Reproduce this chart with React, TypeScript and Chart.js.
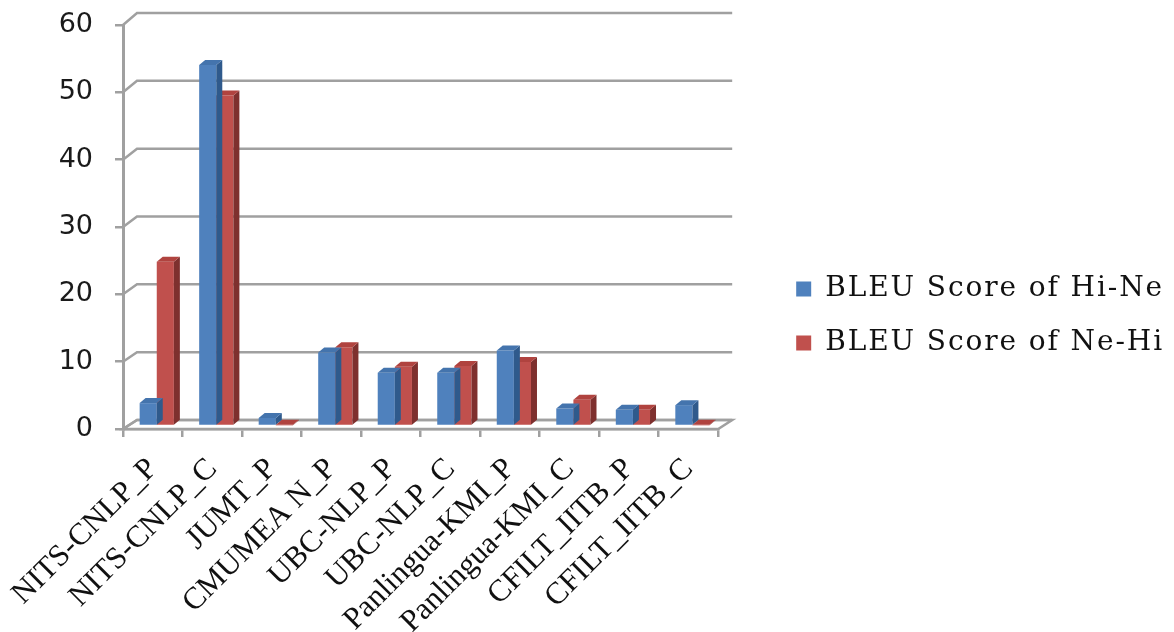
import React, { useEffect, useRef } from "react";
import { Chart, registerables } from "chart.js";

Chart.register(...registerables);

const categories = [
  "NITS-CNLP_P",
  "NITS-CNLP_C",
  "JUMT_P",
  "CMUMEA N_P",
  "UBC-NLP_P",
  "UBC-NLP_C",
  "Panlingua-KMI_P",
  "Panlingua-KMI_C",
  "CFILT_IITB_P",
  "CFILT_IITB_C",
];
const seriesNames = ["BLEU Score of Hi-Ne", "BLEU Score of Ne-Hi"];
const hiNe = [3.4, 53.6, 1.2, 10.9, 7.9, 7.9, 11.2, 2.6, 2.4, 3.1];
const neHi = [24.4, 49.1, 0.1, 11.7, 8.8, 8.9, 9.5, 3.9, 2.4, 0.1];
const yTicks = [0, 10, 20, 30, 40, 50, 60];

const frontColors = ["#4f81bd", "#c0504d"];
const sideColors = ["#2f5a8c", "#7e302e"];
const topColors = ["#4474ad", "#b0433f"];
const GRID = "#a0a0a0";

const W = 1174;
const H = 632;
const BAR_DX = 4;
const BAR_DY = -3;
const DEPTH_X = 6;
const DEPTH_Y = 5;
const WALL_DX = 14;
const wallDy = (v: number) => 9 + (3 * v) / 60;

const LEG_FONT = 28;
const LEG_FAMILY = "DejaVu Serif";
const LEG_LS = "1.9px";
const LEG_PAD = 26;
const LEG_BOX = 15;
const LEG_W = 405;
const GAP_W = 52;

const withSpacing = (ctx: any, fn: () => void) => {
  const prev = ctx.letterSpacing;
  ctx.letterSpacing = LEG_LS;
  try {
    fn();
  } finally {
    ctx.letterSpacing = prev || "0px";
  }
};

const threeD = {
  id: "threeD",
  afterInit(chart: any) {
    const lg = chart.legend;
    if (!lg || lg.__patched) return;
    lg.__patched = true;
    const fit = lg.fit.bind(lg);
    const draw = lg.draw.bind(lg);
    lg.fit = () => withSpacing(lg.ctx, fit);
    lg.draw = (...a: any[]) => withSpacing(lg.ctx, () => draw(...a));
  },
  beforeDatasetsDraw(chart: any) {
    const { ctx, chartArea: a } = chart;
    const y = chart.scales.y;
    ctx.save();
    ctx.strokeStyle = GRID;
    ctx.lineWidth = 2.5;
    const y0 = y.getPixelForValue(0);
    ctx.beginPath();
    ctx.moveTo(a.left, y0);
    ctx.lineTo(a.right, y0);
    ctx.lineTo(a.right + WALL_DX, y0 - wallDy(0));
    ctx.lineTo(a.left + WALL_DX, y0 - wallDy(0));
    ctx.closePath();
    ctx.fillStyle = "#ffffff";
    ctx.fill();
    ctx.stroke();
    for (const v of yTicks) {
      const yf = y.getPixelForValue(v);
      const yb = yf - wallDy(v);
      ctx.beginPath();
      ctx.moveTo(a.left, yf);
      ctx.lineTo(a.left + WALL_DX, yb);
      ctx.lineTo(a.right + WALL_DX, yb);
      ctx.stroke();
    }
    ctx.restore();
    ctx.save();
    ctx.translate(BAR_DX, BAR_DY);
  },
  afterDatasetDraw(chart: any, args: any) {
    const { ctx } = chart;
    const i = args.index;
    const meta = args.meta;
    meta.data.forEach((bar: any) => {
      const { x, y, base, width } = bar.getProps(["x", "y", "base", "width"], true);
      const l = x - width / 2;
      const r = x + width / 2;
      const top = Math.min(y, base);
      const bot = Math.max(y, base);
      ctx.fillStyle = sideColors[i];
      ctx.beginPath();
      ctx.moveTo(r, top);
      ctx.lineTo(r + DEPTH_X, top - DEPTH_Y);
      ctx.lineTo(r + DEPTH_X, bot - DEPTH_Y);
      ctx.lineTo(r, bot);
      ctx.closePath();
      ctx.fill();
      ctx.fillStyle = topColors[i];
      ctx.beginPath();
      ctx.moveTo(l, top);
      ctx.lineTo(l + DEPTH_X, top - DEPTH_Y);
      ctx.lineTo(r + DEPTH_X, top - DEPTH_Y);
      ctx.lineTo(r, top);
      ctx.closePath();
      ctx.fill();
    });
  },
  afterDatasetsDraw(chart: any) {
    chart.ctx.restore();
  },
};

export default function App() {
  const ref = useRef<HTMLCanvasElement | null>(null);
  useEffect(() => {
    if (!ref.current) return;
    const chart = new Chart(ref.current, {
      type: "bar",
      data: {
        labels: categories,
        datasets: [
          {
            label: seriesNames[0],
            data: hiNe,
            backgroundColor: frontColors[0],
            borderWidth: 0,
            clip: false as any,
            categoryPercentage: 0.575,
            barPercentage: 1,
          },
          {
            label: seriesNames[1],
            data: neHi,
            backgroundColor: frontColors[1],
            borderWidth: 0,
            clip: false as any,
            categoryPercentage: 0.575,
            barPercentage: 1,
          },
        ],
      },
      options: {
        responsive: false,
        animation: false,
        devicePixelRatio: 1,
        layout: { padding: 0 },
        plugins: {
          tooltip: { enabled: false },
          title: { display: false },
          legend: {
            position: "right",
            maxWidth: LEG_W,
            labels: {
              boxWidth: LEG_BOX,
              boxHeight: LEG_BOX,
              padding: LEG_PAD,
              color: "#111111",
              font: { family: LEG_FAMILY, size: LEG_FONT },
            },
          },
        },
        scales: {
          x: {
            grid: {
              drawOnChartArea: false,
              drawTicks: true,
              tickLength: 8,
              color: GRID,
              lineWidth: 2.5,
            },
            border: { display: true, color: GRID, width: 2.5 },
            ticks: {
              autoSkip: false,
              maxRotation: 45,
              minRotation: 45,
              padding: 14,
              color: "#111111",
              font: { family: "Liberation Serif", size: 31 },
            },
            afterFit: (s: any) => {
              s.height = H - 429;
              s.paddingLeft = 0;
              s.paddingRight = 0;
            },
          },
          y: {
            min: 0,
            max: 60,
            grid: {
              drawOnChartArea: false,
              drawTicks: true,
              tickLength: 8,
              color: GRID,
              lineWidth: 2.5,
            },
            border: { display: true, color: GRID, width: 3 },
            ticks: {
              stepSize: 10,
              padding: 22,
              color: "#1a1a1a",
              font: { family: "DejaVu Sans", size: 27 },
            },
            afterFit: (s: any) => {
              s.width = 123;
              s.paddingTop = 25;
              s.paddingBottom = 0;
            },
          },
          y2: {
            type: "linear",
            position: "right",
            display: true,
            grid: { display: false },
            border: { display: false },
            ticks: { display: false },
            afterFit: (s: any) => {
              s.width = GAP_W;
              s.paddingTop = 0;
              s.paddingBottom = 0;
            },
          },
        },
      },
      plugins: [threeD],
    });
    return () => chart.destroy();
  }, []);
  return (
    <div style={{ position: "fixed", left: 0, top: 0, width: W, height: H, background: "#fff" }}>
      <canvas ref={ref} width={W} height={H} />
    </div>
  );
}
